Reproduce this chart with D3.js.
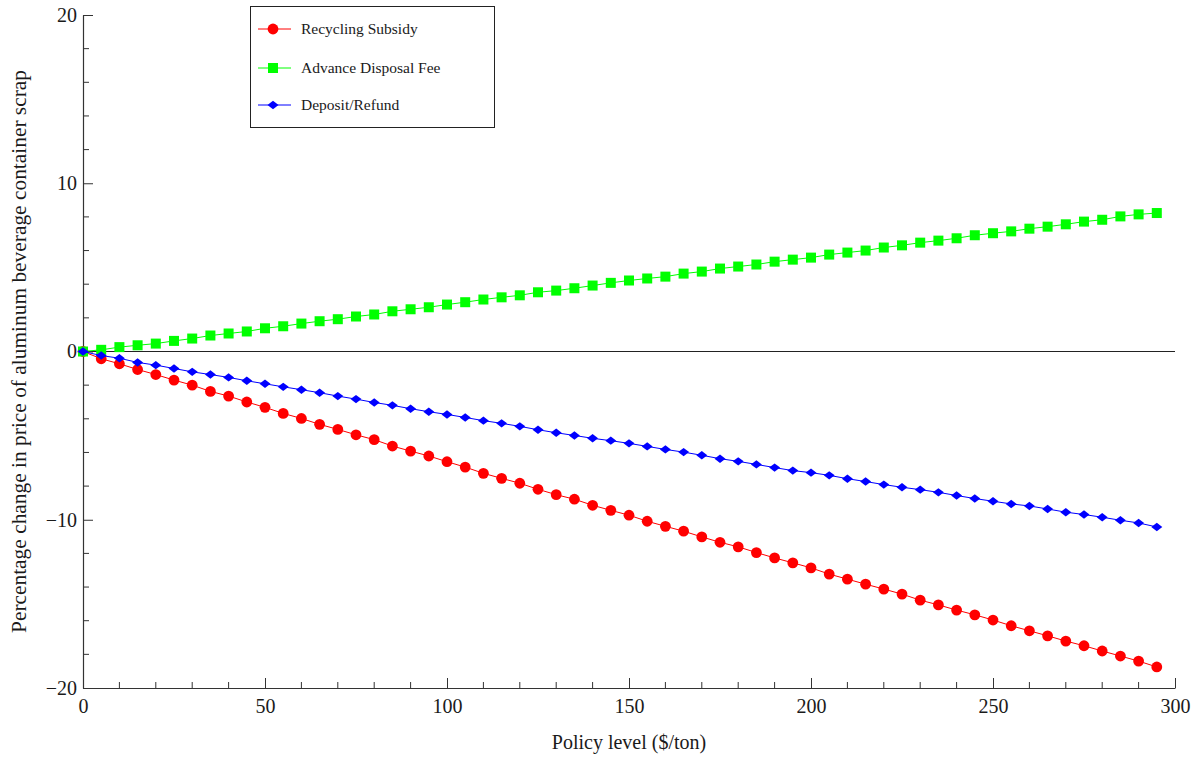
<!DOCTYPE html>
<html>
<head>
<meta charset="utf-8">
<script src="https://cdn.jsdelivr.net/npm/d3@7"></script>
<style>
  html, body { margin: 0; padding: 0; background: #fff; }
  svg { display: block; }
  text { font-family: "Liberation Serif", "DejaVu Serif", serif; fill: #1a1a1a; }
</style>
</head>
<body>
<svg id="chart" width="1200" height="761"></svg>
<script>
// ---- data ----
const policyLevels = d3.range(0, 300, 5); // 0,5,...,295
const recyclingSubsidy = [0, -0.43, -0.73, -1.07, -1.37, -1.70, -2.00, -2.37, -2.65, -3.00,
  -3.32, -3.68, -3.98, -4.33, -4.63, -4.95, -5.24, -5.62, -5.92, -6.21,
  -6.55, -6.87, -7.24, -7.54, -7.83, -8.19, -8.51, -8.78, -9.14, -9.44,
  -9.73, -10.09, -10.39, -10.68, -11.02, -11.34, -11.61, -11.95, -12.27, -12.56,
  -12.86, -13.23, -13.53, -13.83, -14.12, -14.42, -14.78, -15.06, -15.37, -15.65,
  -15.96, -16.30, -16.60, -16.90, -17.21, -17.49, -17.80, -18.10, -18.40, -18.75];
const advanceDisposalFee = [0, 0.10, 0.26, 0.37, 0.47, 0.63, 0.77, 0.95, 1.07, 1.19,
  1.38, 1.50, 1.66, 1.80, 1.92, 2.08, 2.20, 2.39, 2.51, 2.63,
  2.79, 2.93, 3.09, 3.22, 3.34, 3.52, 3.62, 3.76, 3.92, 4.08,
  4.22, 4.34, 4.45, 4.63, 4.75, 4.93, 5.05, 5.17, 5.34, 5.46,
  5.58, 5.76, 5.88, 6.00, 6.18, 6.31, 6.47, 6.59, 6.73, 6.91,
  7.03, 7.14, 7.30, 7.42, 7.56, 7.72, 7.83, 8.03, 8.15, 8.23];
const depositRefund = [0, -0.24, -0.40, -0.65, -0.81, -1.01, -1.21, -1.37, -1.54, -1.74,
  -1.92, -2.10, -2.27, -2.45, -2.65, -2.83, -3.03, -3.20, -3.40, -3.58,
  -3.74, -3.92, -4.11, -4.27, -4.45, -4.65, -4.83, -4.99, -5.16, -5.30,
  -5.46, -5.64, -5.82, -5.98, -6.17, -6.37, -6.53, -6.71, -6.90, -7.08,
  -7.20, -7.36, -7.56, -7.73, -7.91, -8.07, -8.21, -8.37, -8.56, -8.74,
  -8.90, -9.06, -9.18, -9.36, -9.55, -9.69, -9.85, -10.03, -10.19, -10.43];
const seriesNames = ["Recycling Subsidy", "Advance Disposal Fee", "Deposit/Refund"];
const seriesColors = ["#ff0000", "#00ff00", "#0000ff"];
const seriesShapes = ["circle", "square", "diamond"];
const xTicks = [0, 50, 100, 150, 200, 250, 300];
const yTicks = [-20, -10, 0, 10, 20];
const xLabel = "Policy level ($/ton)";
const yLabel = "Percentage change in price of aluminum beverage container scrap";

// ---- layout ----
const svg = d3.select("#chart");
const pLeft = 83, pRight = 1175, pTop = 15, pBottom = 688;
const x = d3.scaleLinear().domain([0, 300]).range([pLeft, pRight]);
const y = d3.scaleLinear().domain([-20, 20]).range([pBottom, pTop]);
const fmt = d => d < 0 ? "\u2212" + Math.abs(d) : String(d);

const axisColor = "#333";

// x axis
const gx = svg.append("g").attr("transform", `translate(0,${pBottom})`);
gx.call(d3.axisBottom(x).tickValues(xTicks).tickSizeInner(-10).tickSizeOuter(0).tickFormat(fmt).tickPadding(11));
gx.select(".domain").attr("stroke", axisColor).attr("stroke-width", 1.2);
gx.selectAll(".tick line").attr("stroke", axisColor);
gx.selectAll(".tick text").attr("font-size", 20).attr("font-family", "Liberation Serif").attr("fill", "#1a1a1a");
gx.selectAll(".minor").data(d3.range(0, 301, 10).filter(v => v % 50 !== 0)).enter()
  .append("line").attr("class", "minor")
  .attr("x1", d => x(d)).attr("x2", d => x(d)).attr("y1", 0).attr("y2", -6)
  .attr("stroke", axisColor);

// y axis
const gy = svg.append("g").attr("transform", `translate(${pLeft},0)`);
gy.call(d3.axisLeft(y).tickValues(yTicks).tickSizeInner(-10).tickSizeOuter(0).tickFormat(fmt).tickPadding(6));
gy.select(".domain").attr("stroke", axisColor).attr("stroke-width", 1.2);
gy.selectAll(".tick line").attr("stroke", axisColor);
gy.selectAll(".tick text").attr("font-size", 20).attr("font-family", "Liberation Serif").attr("fill", "#1a1a1a");
gy.selectAll(".minor").data(d3.range(-20, 21, 2).filter(v => v % 10 !== 0)).enter()
  .append("line").attr("class", "minor")
  .attr("x1", 0).attr("x2", 6).attr("y1", d => y(d)).attr("y2", d => y(d))
  .attr("stroke", axisColor);

// zero line
svg.append("line").attr("x1", x(0)).attr("x2", x(300)).attr("y1", y(0)).attr("y2", y(0))
  .attr("stroke", "#222").attr("stroke-width", 1);

// axis labels
svg.append("text").attr("x", (pLeft + pRight) / 2).attr("y", 749)
  .attr("text-anchor", "middle").attr("font-size", 20).text(xLabel);
svg.append("text").attr("transform", `translate(26,${(pTop + pBottom) / 2}) rotate(-90)`)
  .attr("text-anchor", "middle").attr("font-size", 21.4).text(yLabel);

// ---- series ----
const allSeries = [recyclingSubsidy, advanceDisposalFee, depositRefund];
function drawMarker(g, shape, color) {
  if (shape === "circle") {
    g.append("circle").attr("r", 5.4).attr("fill", color);
  } else if (shape === "square") {
    g.append("rect").attr("x", -5).attr("y", -5).attr("width", 10).attr("height", 10).attr("fill", color);
  } else {
    g.append("path").attr("d", "M-5.5,0L0,-4.2L5.5,0L0,4.2Z").attr("fill", color);
  }
}
const line = d3.line().x(d => x(d[0])).y(d => y(d[1]));
allSeries.forEach((vals, i) => {
  const pts = policyLevels.map((p, j) => [p, vals[j]]);
  const g = svg.append("g");
  g.append("path").attr("d", line(pts)).attr("fill", "none")
    .attr("stroke", seriesColors[i]).attr("stroke-width", 1);
  pts.forEach(p => {
    const m = g.append("g").attr("transform", `translate(${x(p[0])},${y(p[1])})`);
    drawMarker(m, seriesShapes[i], seriesColors[i]);
  });
});

// ---- legend ----
const lg = svg.append("g");
lg.append("rect").attr("x", 250.5).attr("y", 6.5).attr("width", 244).attr("height", 121)
  .attr("fill", "#fff").attr("stroke", "#222").attr("stroke-width", 1);
const legendY = [29, 68, 105];
seriesNames.forEach((name, i) => {
  const yy = legendY[i];
  lg.append("line").attr("x1", 258).attr("x2", 291).attr("y1", yy).attr("y2", yy)
    .attr("stroke", seriesColors[i]).attr("stroke-width", 1);
  const m = lg.append("g").attr("transform", `translate(273,${yy})`);
  drawMarker(m, seriesShapes[i], seriesColors[i]);
  lg.append("text").attr("x", 301).attr("y", yy + 5).attr("font-size", 15.5).text(name);
});
</script>
</body>
</html>
